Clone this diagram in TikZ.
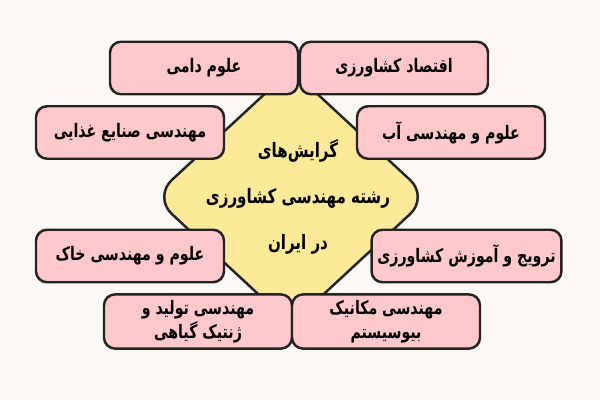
\documentclass[tikz,border=0pt]{standalone}
\usepackage{fontspec}
\usepackage{tikz}
\usetikzlibrary{shapes,positioning,calc}
\usetikzlibrary{shapes.geometric}
\newfontfamily\farsi[Script=Arabic,FakeStretch=0.76]{DejaVu Sans}
\TeXXeTstate=1
\definecolor{sfondo}{HTML}{FCF8F6}
\definecolor{rosa}{HTML}{FFC9CC}
\definecolor{giallo}{HTML}{FDEA98}
\definecolor{bordo}{HTML}{232323}
\tikzstyle{ramo} = [rectangle, 
rounded corners=0.22cm, minimum width=3.76cm, minimum height=1.05cm, text centered, align=center, draw=bordo, line width=1.4pt, fill=rosa, font=\farsi\bfseries\fontsize{10.6}{13.5}\selectfont]
\tikzstyle{centro} = [diamond, rounded corners=0.5cm, minimum width=5.52cm, minimum height=5.12cm, inner sep=0pt, draw=bordo, line width=1.4pt, fill=giallo]
\begin{document}
\begin{tikzpicture}
							\fill[sfondo] (0,0) rectangle (12,-8);
							\useasboundingbox (0,0) rectangle (12,-8);
							\node (c) at (5.82,-3.94) [centro] {};
							\node (t) at (5.96,-3.94) [align=center, font=\farsi\bfseries\fontsize{11.3}{26}\selectfont] {\beginR گرایش^^^^200cهای\endR\\\beginR رشته مهندسی کشاورزی\endR\\\beginR در ایران\endR};
							\node (r1) at (4.08,-1.36) [ramo] {\beginR علوم دامی\endR};
							\node (r2) at (7.88,-1.36) [ramo] {\beginR اقتصاد کشاورزی\endR};
							\node (r3) at (2.60,-2.65) [ramo] {\beginR مهندسی صنایع غذایی\endR};
							\node (r4) at (9.02,-2.65) [ramo] {\beginR علوم و مهندسی آب\endR};
							\node (r5) at (2.60,-5.12) [ramo] {\beginR علوم و مهندسی خاک\endR};
							\node (r6) at (9.33,-5.12) [ramo] {\beginR ترویج و آموزش کشاورزی\endR};
							\node (r7) at (3.96,-6.43) [ramo] {\beginR مهندسی تولید و\endR\\\beginR ژنتیک گیاهی\endR};
							\node (r8) at (7.72,-6.43) [ramo] {\beginR مهندسی مکانیک\endR\\\beginR بیوسیستم\endR};
						\end{tikzpicture}
\end{document}
